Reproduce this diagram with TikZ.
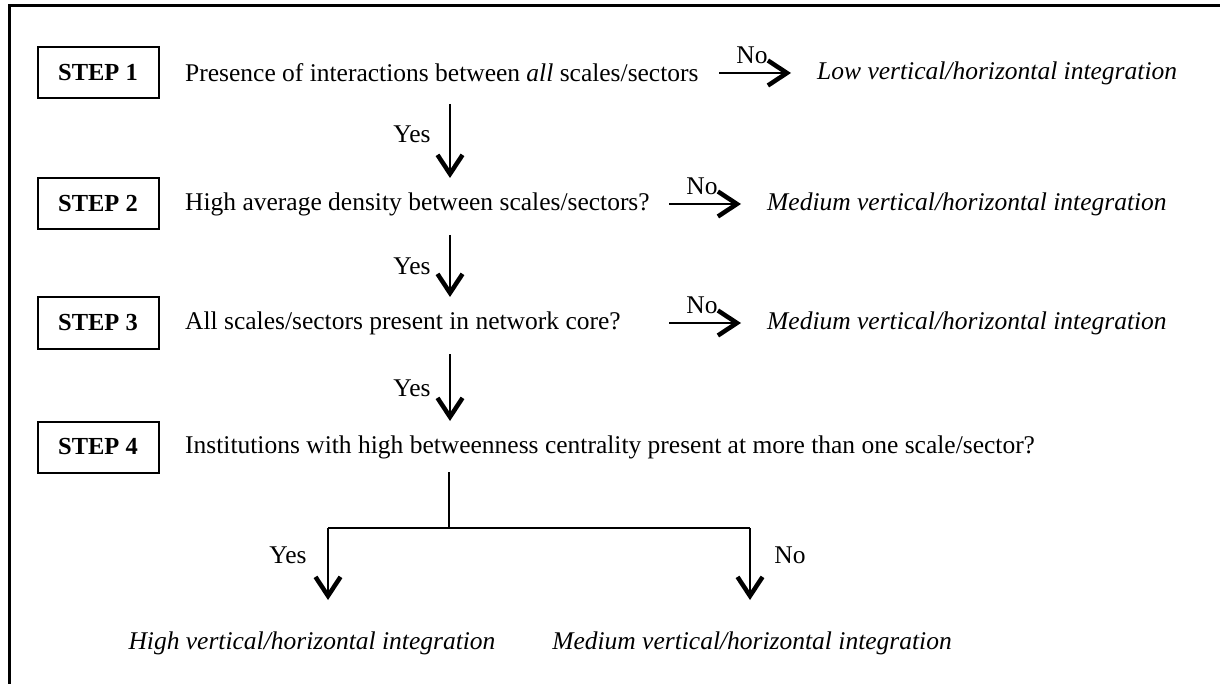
\documentclass[tikz,border=0pt]{standalone}
\usepackage{fontspec}
\setmainfont{Liberation Serif}
\usetikzlibrary{arrows.meta}
\begin{document}
\begin{tikzpicture}[x=1pt,y=-1pt,
  every node/.style={font=\fontsize{25.5}{30}\selectfont, inner sep=0pt},
  stepbox/.style={draw, line width=2pt, minimum width=121pt, minimum height=51pt, font=\fontsize{24.5}{28}\selectfont\bfseries},
  qtext/.style={anchor=west},
  outc/.style={anchor=west, font=\fontsize{25.5}{30}\selectfont\itshape},
  arr/.style={line width=2pt, -{Straight Barb[length=19pt, width=25pt, line width=4.5pt]}},
  ln/.style={line width=2pt}]
\useasboundingbox (0,0) rectangle (1220,684);
% frame (top and left edges visible)
\draw[line width=2.5pt] (9.5,684) -- (9.5,5.5) -- (1220,5.5);
% steps
\node[stepbox] (s1) at (98,73) {STEP 1};
\node[stepbox] (s2) at (98,204) {STEP 2};
\node[stepbox] (s3) at (98,323) {STEP 3};
\node[stepbox] (s4) at (98,447) {STEP 4};
% questions
\node[qtext] (q1) at (185,73) {Presence of interactions between \textit{all} scales/sectors};
\node[qtext] (q2) at (185,204) {High average density between scales/sectors?};
\node[qtext] (q3) at (185,323) {All scales/sectors present in network core?};
\node[qtext] (q4) at (185,447) {Institutions with high betweenness centrality present at more than one scale/sector?};
% outcomes
\node[outc] (o1) at (817,73) {Low vertical/horizontal integration};
\node[outc] (o2) at (767,204) {Medium vertical/horizontal integration};
\node[outc] (o3) at (767,323) {Medium vertical/horizontal integration};
\node (o4) at (312,643) {\itshape High vertical/horizontal integration};
\node (o5) at (752,643) {\itshape Medium vertical/horizontal integration};
% horizontal "No" arrows
\coordinate (h1a) at (719,73); \coordinate (h1b) at (791,73);
\coordinate (h2a) at (669,204); \coordinate (h2b) at (741,204);
\coordinate (h3a) at (669,323); \coordinate (h3b) at (741,323);
\draw[arr] (h1a) -- (h1b);
\draw[arr] (h2a) -- (h2b);
\draw[arr] (h3a) -- (h3b);
\node (n1) at (752,55) {No};
\node (n2) at (702,186) {No};
\node (n3) at (702,305) {No};
% vertical "Yes" arrows
\coordinate (v1a) at (450,104); \coordinate (v1b) at (450,178);
\coordinate (v2a) at (450,235); \coordinate (v2b) at (450,297);
\coordinate (v3a) at (450,354); \coordinate (v3b) at (450,421);
\draw[arr] (v1a) -- (v1b);
\draw[arr] (v2a) -- (v2b);
\draw[arr] (v3a) -- (v3b);
\node (y1) at (412,134) {Yes};
\node (y2) at (412,266) {Yes};
\node (y3) at (412,388) {Yes};
% final split
\coordinate (st) at (449,472);
\coordinate (jn) at (449,528);
\coordinate (jl) at (328,528);
\coordinate (jr) at (750,528);
\coordinate (tl) at (328,600);
\coordinate (tr) at (750,600);
\draw[ln] (st) -- (jn);
\draw[ln] (jl) -- (jr);
\draw[arr] (jl) -- (tl);
\draw[arr] (jr) -- (tr);
\node (y4) at (288,555) {Yes};
\node (n4) at (790,555) {No};
\end{tikzpicture}
\end{document}
